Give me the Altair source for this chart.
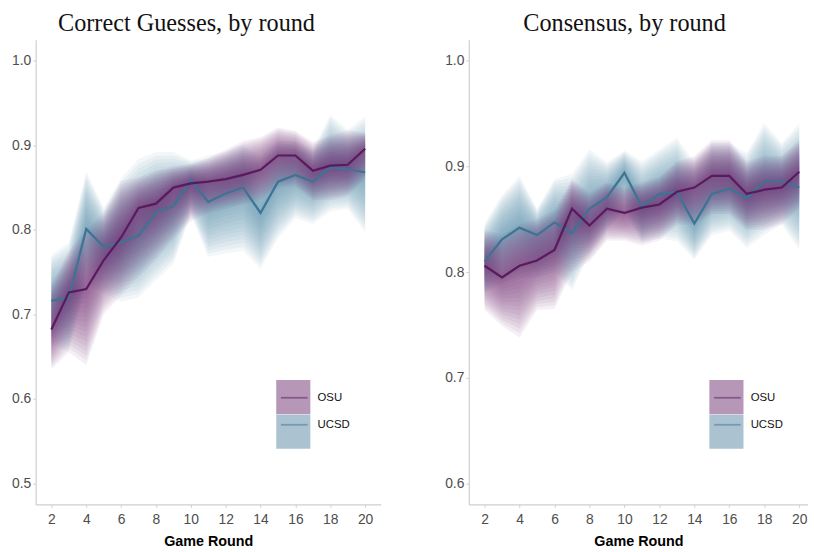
import altair as alt
import pandas as pd

# ---------------- data ----------------
rounds = list(range(2, 21))
schools = ["OSU", "UCSD"]

# Correct Guesses, by round
osu_cg = [0.682, 0.726, 0.730, 0.764, 0.791, 0.826, 0.831, 0.850, 0.855, 0.857,
          0.860, 0.865, 0.871, 0.888, 0.888, 0.870, 0.876, 0.877, 0.896]
osu_cg_lo = [0.635, 0.655, 0.640, 0.700, 0.722, 0.745, 0.765, 0.790, 0.810, 0.820,
             0.825, 0.830, 0.835, 0.850, 0.852, 0.835, 0.835, 0.840, 0.860]
osu_cg_hi = [0.735, 0.775, 0.800, 0.820, 0.858, 0.862, 0.870, 0.875, 0.878, 0.885,
             0.895, 0.905, 0.910, 0.921, 0.917, 0.904, 0.912, 0.918, 0.915]
ucsd_cg = [0.716, 0.720, 0.801, 0.780, 0.785, 0.793, 0.821, 0.828, 0.859, 0.833,
           0.843, 0.850, 0.820, 0.857, 0.865, 0.857, 0.874, 0.872, 0.868]
ucsd_cg_lo = [0.665, 0.655, 0.735, 0.725, 0.715, 0.720, 0.740, 0.760, 0.818, 0.768,
              0.772, 0.775, 0.754, 0.790, 0.814, 0.807, 0.822, 0.825, 0.797]
ucsd_cg_hi = [0.770, 0.785, 0.869, 0.826, 0.861, 0.884, 0.892, 0.892, 0.882, 0.888,
              0.892, 0.901, 0.886, 0.905, 0.905, 0.895, 0.936, 0.918, 0.934]

# Consensus, by round
osu_cs = [0.806, 0.795, 0.806, 0.811, 0.821, 0.860, 0.844, 0.860, 0.856, 0.861,
          0.864, 0.876, 0.880, 0.891, 0.891, 0.874, 0.878, 0.880, 0.895]
osu_cs_lo = [0.764, 0.749, 0.738, 0.764, 0.765, 0.800, 0.810, 0.830, 0.830, 0.825,
             0.830, 0.845, 0.845, 0.855, 0.855, 0.840, 0.840, 0.845, 0.860]
osu_cs_hi = [0.840, 0.835, 0.845, 0.850, 0.858, 0.888, 0.875, 0.885, 0.880, 0.885,
             0.890, 0.905, 0.910, 0.925, 0.925, 0.905, 0.910, 0.910, 0.925]
ucsd_cs = [0.810, 0.831, 0.842, 0.835, 0.847, 0.837, 0.860, 0.871, 0.894, 0.862,
           0.874, 0.876, 0.846, 0.874, 0.879, 0.870, 0.886, 0.886, 0.880]
ucsd_cs_lo = [0.780, 0.790, 0.795, 0.795, 0.800, 0.783, 0.817, 0.839, 0.858, 0.828,
              0.832, 0.829, 0.812, 0.835, 0.839, 0.823, 0.835, 0.845, 0.821]
ucsd_cs_hi = [0.846, 0.873, 0.891, 0.860, 0.888, 0.893, 0.916, 0.904, 0.915, 0.905,
              0.916, 0.927, 0.904, 0.922, 0.922, 0.913, 0.941, 0.922, 0.941]

x_ticks = [2, 4, 6, 8, 10, 12, 14, 16, 18, 20]
y_ticks_cg = [0.5, 0.6, 0.7, 0.8, 0.9, 1.0]
y_ticks_cs = [0.6, 0.7, 0.8, 0.9, 1.0]

# ---------------- style ----------------
RIBBON = ["#6e2f72", "#5787a3"]
LINE = ["#5a1a5e", "#3d7393"]
N_LEVELS = 16
ALPHA = 0.07
SANS = "Liberation Sans"
SERIF = "Liberation Serif"


def band_frame(mid_by_school, lo_by_school, hi_by_school):
    rows = []
    for s_idx in [1, 0]:
        s = schools[s_idx]
        mid, lo, hi = mid_by_school[s_idx], lo_by_school[s_idx], hi_by_school[s_idx]
        for k in range(1, N_LEVELS + 1):
            f = k / N_LEVELS
            for r, m, l, h in zip(rounds, mid, lo, hi):
                rows.append({"round": r, "school": s, "level": k,
                             "lo": m - f * (m - l), "hi": m + f * (h - m)})
    return pd.DataFrame(rows)


def line_frame(mid_by_school):
    rows = []
    for s_idx in [1, 0]:
        for r, v in zip(rounds, mid_by_school[s_idx]):
            rows.append({"round": r, "School": schools[s_idx], "value": v})
    return pd.DataFrame(rows)


def panel(title, dx, mids, los, his, ydom, yticks, xdom, width):
    xs = alt.Scale(domain=xdom, nice=False, zero=False)
    ys = alt.Scale(domain=ydom, nice=False, zero=False)
    xaxis = alt.Axis(values=x_ticks, title="Game Round", grid=False, format="d")
    yaxis = alt.Axis(values=yticks, title=None, grid=False, format=".1f")

    bands = alt.Chart(band_frame(mids, los, his)).mark_area(
        fillOpacity=ALPHA, strokeWidth=0, clip=True
    ).encode(
        x=alt.X("round:Q", scale=xs, axis=xaxis),
        y=alt.Y("lo:Q", scale=ys, axis=yaxis),
        y2="hi:Q",
        fill=alt.Fill("school:N", scale=alt.Scale(domain=schools, range=RIBBON),
                      legend=alt.Legend(title=None, orient="none", legendX=243, legendY=344,
                                        symbolType="square", symbolSize=1190,
                                        symbolOpacity=0.5, symbolStrokeWidth=0,
                                        rowPadding=0, labelExpr="''", padding=0)),
        detail="level:N",
    )
    lines = alt.Chart(line_frame(mids)).mark_line(strokeWidth=2.2, clip=True).encode(
        x=alt.X("round:Q", scale=xs, axis=xaxis),
        y=alt.Y("value:Q", scale=ys, axis=yaxis),
        stroke=alt.Stroke("School:N", scale=alt.Scale(range=LINE),
                          legend=alt.Legend(title=None, orient="none", legendX=247, legendY=347.6,
                                            symbolType="stroke", symbolSize=729,
                                            symbolStrokeWidth=1.8, symbolOpacity=0.5,
                                            rowPadding=7.3, labelOffset=9, padding=0,
                                            labelFont=SANS, labelFontSize=11.5,
                                            labelColor="#111111")),
    )
    return alt.layer(bands, lines).properties(
        width=width, height=470,
        title=alt.TitleParams(text=title, font=SERIF, fontSize=24.5, fontWeight="normal",
                              color="#111111", anchor="middle", frame="group", dx=dx,
                              offset=3),
    )


left = panel("Correct Guesses, by round", -22,
             [osu_cg, ucsd_cg], [osu_cg_lo, ucsd_cg_lo], [osu_cg_hi, ucsd_cg_hi],
             [0.475, 1.025], y_ticks_cg, [1.1, 20.9], 349)
right = panel("Consensus, by round", -14,
              [osu_cs, ucsd_cs], [osu_cs_lo, ucsd_cs_lo], [osu_cs_hi, ucsd_cs_hi],
              [0.58, 1.02], y_ticks_cs, [1.1, 20.5], 343)

chart = alt.hconcat(left, right, spacing=64).resolve_scale(
    x="independent", y="independent", fill="independent", stroke="independent"
).configure_view(stroke=None).configure_axis(
    labelFont=SANS, labelFontSize=14, labelColor="#4d4d4d",
    domainColor="#cfcfcf", domainWidth=1.2, tickColor="#cfcfcf", tickSize=3,
    labelPadding=2, titleFont=SANS, titleFontSize=14.5, titleFontWeight="bold",
    titleColor="#000000",
).configure_axisX(
    labelPadding=5, titlePadding=8,
).properties(
    background="white",
    padding={"left": 3, "top": 0, "right": 0, "bottom": 0},
)

chart.save("out.html", embed_options={"renderer": "svg", "actions": False})
